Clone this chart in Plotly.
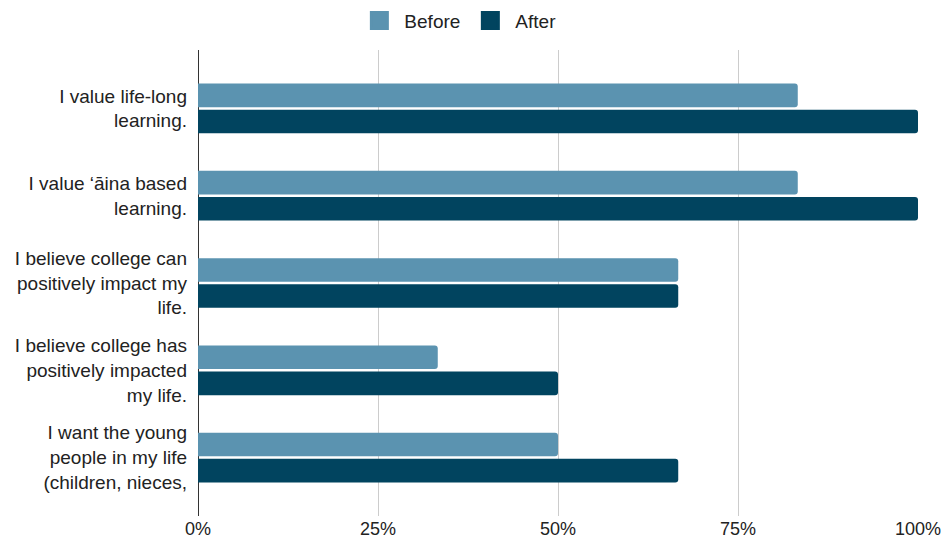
import plotly.graph_objects as go

# Survey statements (wrapped as displayed on the axis)
categories = [
    "I value life-long<br>learning.",
    "I value ‘āina based<br>learning.",
    "I believe college can<br>positively impact my<br>life.",
    "I believe college has<br>positively impacted<br>my life.",
    "I want the young<br>people in my life<br>(children, nieces,",
]
before_vals = [0.833, 0.833, 0.667, 0.333, 0.5]
after_vals = [1.0, 1.0, 0.667, 0.5, 0.667]
x_ticks = [0, 0.25, 0.5, 0.75, 1.0]
x_tick_labels = ["0%", "25%", "50%", "75%", "100%"]

BEFORE_COLOR = "#5b93b0"
AFTER_COLOR = "#01445f"
TEXT_COLOR = "#222222"

fig = go.Figure()
fig.add_trace(go.Bar(
    y=categories, x=before_vals, orientation="h", name="Before",
    marker=dict(color=BEFORE_COLOR, line=dict(width=0)), showlegend=False,
))
fig.add_trace(go.Bar(
    y=categories, x=after_vals, orientation="h", name="After",
    marker=dict(color=AFTER_COLOR, line=dict(width=0)), showlegend=False,
))

# Larger square legend swatches
for name, color in [("Before", BEFORE_COLOR), ("After", AFTER_COLOR)]:
    fig.add_trace(go.Scatter(
        x=[None], y=[None], mode="markers", name=name,
        marker=dict(symbol="square", size=16, color=color,
                    line=dict(width=3, color=color)),
        showlegend=True,
    ))

fig.update_layout(
    width=946, height=549,
    margin=dict(l=198, r=28, t=50, b=33, autoexpand=False),
    paper_bgcolor="white", plot_bgcolor="white",
    font=dict(family="Liberation Sans, Arial, sans-serif", size=18, color=TEXT_COLOR),
    barmode="group", bargap=0.4, bargroupgap=0.1, barcornerradius=3,
    legend=dict(
        orientation="h", xref="container", yref="container",
        x=0.484, xanchor="center", y=0.997, yanchor="top",
        font=dict(size=19, color=TEXT_COLOR), itemsizing="trace",
        itemwidth=40, tracegroupgap=0,
    ),
    xaxis=dict(
        range=[0, 1], tickvals=x_ticks, ticktext=x_tick_labels,
        showgrid=True, gridcolor="#cccccc", gridwidth=1,
        zeroline=True, zerolinecolor="#333333", zerolinewidth=1,
        showline=False, ticks="", tickfont=dict(size=18), automargin=False,
    ),
    yaxis=dict(
        type="category", categoryorder="array", categoryarray=categories,
        range=[4.67, -0.67], showgrid=False, zeroline=False,
        showline=False, ticks="", ticklabelstandoff=10,
        tickfont=dict(size=19), automargin=False,
    ),
)

fig.write_html("out.html")
